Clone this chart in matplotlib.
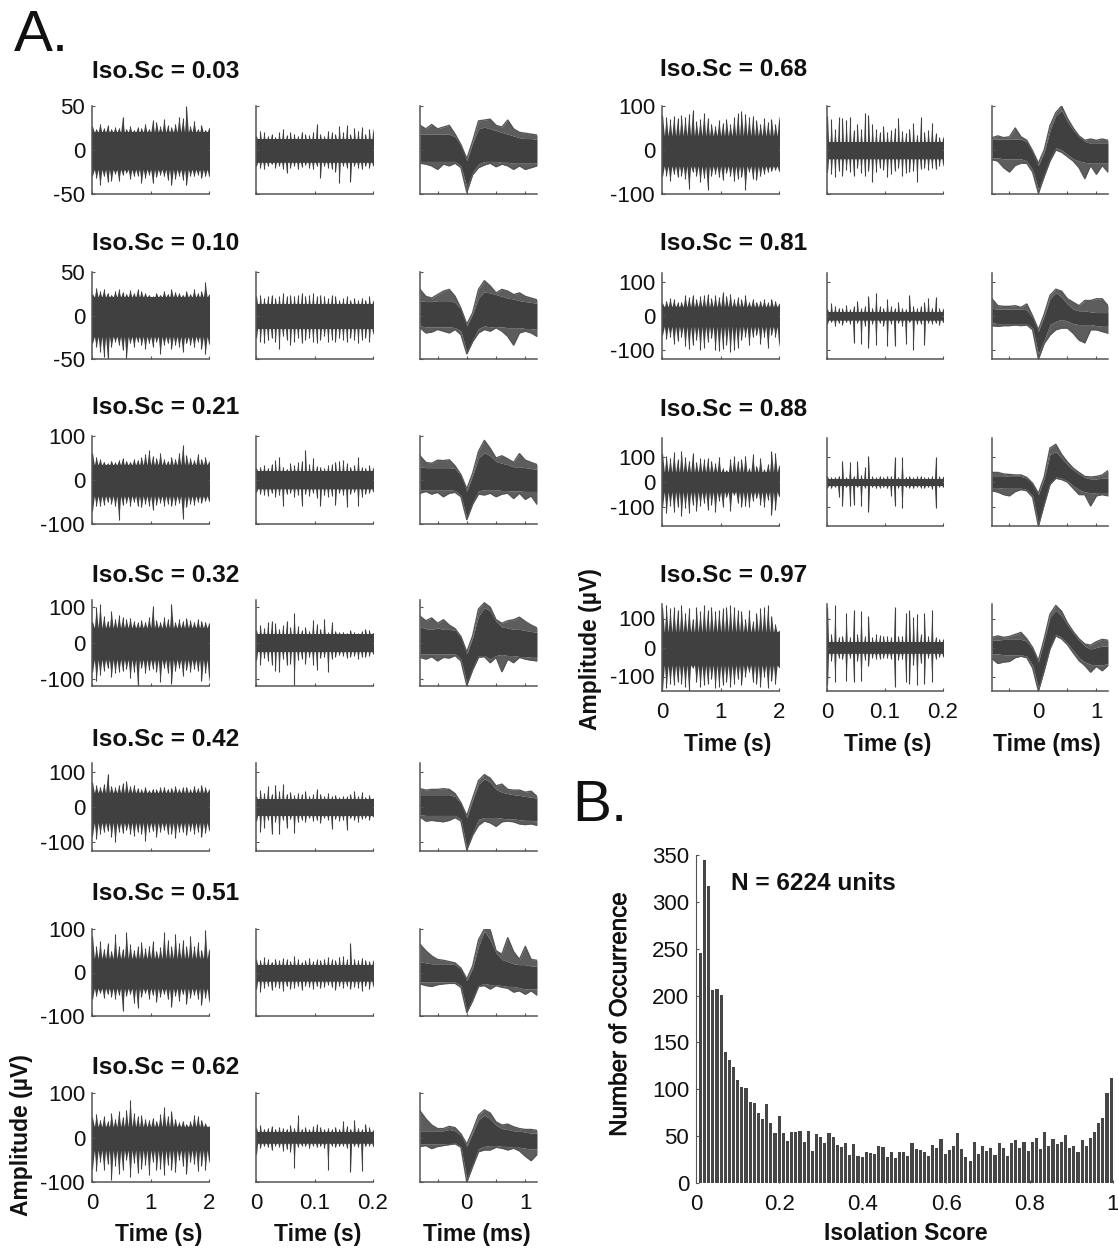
import numpy as np
import matplotlib
matplotlib.use("Agg")
import matplotlib.pyplot as plt
import matplotlib.patheffects as pe

plt.rcParams['font.family'] = ['Liberation Sans', 'DejaVu Sans']
plt.rcParams['axes.unicode_minus'] = False

W, H = 1118, 1248
DARK = '#404040'
EDGE = '#555555'
TXT = '#111111'

scores = ['0.03', '0.10', '0.21', '0.32', '0.42', '0.51', '0.62', '0.68', '0.81', '0.88', '0.97']
y_limits = [50, 50, 100, 120, 125, 100, 100, 100, 125, 175, 150]
y_ticks = [50, 50, 100, 100, 100, 100, 100, 100, 100, 100, 100]

# core of each trace (top, bottom) : the part that is solid dark
long_core = [(20, -22), (21, -24), (34, -36), (42, -46), (40, -44), (32, -36), (24, -28), (32, -36), (26, -30), (38, -38), (52, -60)]
short_core = [(12, -14), (13, -15), (20, -20), (24, -24), (22, -24), (18, -20), (13, -13), (18, -20), (12, -12), (12, -14), (18, -20)]

# spike tips, read by eye, 32 samples across each panel
long_hi_03 = [27, 24, 30, 25, 28, 24, 26, 25, 38, 24, 27, 23, 26, 25, 30, 24, 34, 32, 27, 35, 28, 26, 30, 38, 36, 50, 27, 33, 24, 28, 23, 26]
long_lo_03 = [-29, -32, -40, -30, -36, -35, -27, -35, -28, -26, -33, -30, -29, -37, -32, -28, -38, -31, -28, -30, -34, -40, -33, -29, -34, -40, -29, -30, -28, -32, -30, -31]
short_hi_03 = [16, 22, 20, 16, 18, 15, 20, 24, 17, 20, 18, 16, 21, 18, 17, 20, 30, 18, 16, 22, 20, 18, 27, 20, 28, 18, 25, 22, 26, 18, 24, 25]
short_lo_03 = [-18, -20, -22, -18, -16, -20, -18, -22, -26, -20, -18, -22, -19, -17, -20, -22, -18, -32, -18, -20, -22, -25, -38, -18, -20, -36, -18, -20, -22, -18, -20, -19]
wave_chi_03 = [18, 18, 18, 18, 18, 18, 15, 5, -12, 8, 24, 26, 24, 22, 20, 18, 16, 14, 13, 13, 12]
wave_clo_03 = [-13, -13, -13, -13, -13, -13, -13, -18, -42, -25, -16, -13, -13, -13, -14, -14, -15, -15, -15, -15, -15]
wave_ohi_03 = [28, 24, 29, 24, 26, 28, 18, 6, -10, 10, 33, 34, 35, 28, 26, 34, 24, 20, 19, 18, 17]
wave_olo_03 = [-15, -16, -18, -22, -16, -18, -15, -20, -48, -28, -20, -17, -15, -19, -16, -18, -22, -18, -22, -20, -18]

long_hi_10 = [25, 32, 28, 30, 26, 24, 28, 30, 27, 25, 29, 26, 30, 28, 26, 24, 22, 26, 24, 28, 25, 30, 27, 26, 24, 28, 25, 30, 26, 28, 38, 25]
long_lo_10 = [-32, -36, -42, -48, -50, -36, -30, -34, -40, -50, -32, -36, -30, -34, -38, -32, -36, -30, -44, -34, -32, -38, -34, -36, -42, -32, -34, -36, -30, -38, -44, -34]
short_hi_10 = [22, 24, 20, 22, 24, 20, 22, 26, 22, 24, 22, 24, 26, 22, 24, 26, 22, 24, 22, 20, 24, 22, 18, 20, 22, 18, 20, 18, 20, 18, 22, 18]
short_lo_10 = [-26, -30, -32, -28, -26, -30, -38, -24, -28, -34, -30, -26, -32, -28, -26, -30, -32, -28, -24, -30, -28, -30, -26, -28, -30, -26, -28, -32, -28, -26, -30, -22]
wave_chi_10 = [17, 16, 16, 17, 17, 17, 15, 7, -12, 2, 20, 27, 26, 24, 22, 20, 19, 17, 16, 15, 14]
wave_clo_10 = [-12, -13, -13, -13, -13, -13, -14, -18, -42, -28, -15, -12, -13, -13, -13, -14, -14, -14, -15, -15, -16]
wave_ohi_10 = [30, 22, 20, 24, 28, 30, 22, 8, -10, 3, 30, 40, 34, 26, 30, 28, 24, 26, 22, 20, 18]
wave_olo_10 = [-14, -20, -19, -16, -18, -20, -16, -22, -44, -30, -20, -16, -18, -14, -18, -24, -34, -20, -18, -20, -24]

long_hi_21 = [62, 52, 48, 42, 38, 44, 40, 46, 50, 44, 42, 48, 46, 52, 60, 68, 55, 50, 62, 48, 44, 52, 48, 62, 80, 56, 50, 46, 60, 48, 52, 44]
long_lo_21 = [-70, -58, -60, -56, -50, -54, -60, -92, -56, -52, -58, -50, -60, -62, -54, -58, -68, -56, -52, -58, -54, -60, -56, -52, -88, -62, -54, -56, -50, -52, -48, -50]
short_hi_21 = [28, 30, 34, 28, 36, 45, 52, 30, 26, 38, 34, 40, 44, 68, 36, 50, 32, 30, 28, 34, 36, 42, 44, 46, 38, 30, 34, 52, 30, 28, 34, 30]
short_lo_21 = [-28, -32, -34, -36, -30, -38, -34, -60, -32, -30, -38, -34, -58, -32, -36, -30, -40, -58, -34, -38, -36, -56, -30, -34, -62, -32, -28, -58, -38, -32, -30, -28]
wave_chi_21 = [30, 28, 28, 28, 28, 28, 26, 10, -25, 10, 50, 62, 55, 42, 38, 35, 30, 30, 28, 26, 24]
wave_clo_21 = [-22, -22, -22, -22, -22, -22, -24, -35, -85, -50, -25, -22, -22, -22, -24, -24, -25, -25, -26, -26, -26]
wave_ohi_21 = [55, 40, 38, 45, 44, 46, 32, 12, -20, 15, 65, 90, 72, 50, 55, 48, 40, 60, 45, 40, 35]
wave_olo_21 = [-30, -26, -32, -28, -38, -30, -28, -38, -90, -55, -32, -34, -30, -38, -32, -30, -42, -30, -44, -36, -55]

long_hi_32 = [60, 100, 108, 75, 62, 90, 68, 78, 72, 66, 70, 62, 58, 64, 60, 72, 104, 64, 60, 72, 66, 108, 58, 66, 62, 70, 64, 60, 66, 62, 60, 58]
long_lo_32 = [-82, -105, -90, -78, -70, -95, -85, -80, -78, -72, -98, -80, -120, -70, -84, -76, -72, -80, -108, -70, -84, -115, -78, -70, -92, -76, -80, -72, -78, -106, -84, -108]
short_hi_32 = [35, 50, 42, 58, 62, 55, 40, 50, 62, 45, 85, 48, 36, 44, 34, 65, 52, 40, 68, 30, 58, 34, 30, 32, 28, 36, 30, 28, 34, 38, 36, 30]
short_lo_32 = [-48, -60, -42, -50, -60, -78, -82, -44, -62, -58, -118, -48, -44, -58, -40, -60, -74, -42, -38, -82, -44, -38, -34, -36, -42, -38, -36, -44, -40, -38, -36, -32]
wave_chi_32 = [45, 40, 38, 42, 38, 38, 36, 15, -30, 15, 75, 98, 90, 60, 45, 42, 38, 38, 35, 32, 30]
wave_clo_32 = [-30, -30, -30, -30, -30, -30, -30, -45, -112, -70, -35, -35, -45, -35, -32, -35, -35, -38, -38, -40, -40]
wave_ohi_32 = [75, 62, 70, 55, 65, 50, 40, 18, -25, 20, 95, 112, 100, 65, 55, 62, 65, 72, 60, 50, 42]
wave_olo_32 = [-40, -45, -38, -50, -40, -42, -35, -50, -118, -75, -40, -38, -55, -40, -80, -45, -55, -40, -45, -48, -50]

long_hi_42 = [70, 62, 58, 65, 95, 60, 56, 62, 68, 74, 60, 62, 54, 50, 58, 48, 52, 50, 56, 58, 52, 55, 60, 52, 56, 58, 50, 60, 54, 62, 56, 52]
long_lo_42 = [-82, -92, -76, -72, -68, -84, -100, -70, -74, -66, -78, -82, -72, -76, -96, -70, -68, -84, -72, -66, -78, -76, -88, -70, -72, -80, -68, -76, -70, -86, -74, -70]
short_hi_42 = [30, 48, 40, 60, 36, 62, 46, 66, 38, 44, 34, 40, 38, 46, 32, 36, 50, 38, 32, 40, 30, 34, 28, 32, 30, 36, 46, 32, 42, 28, 34, 26]
short_lo_42 = [-40, -70, -60, -36, -78, -42, -76, -38, -60, -34, -74, -44, -36, -42, -32, -40, -38, -46, -30, -36, -62, -34, -40, -36, -66, -32, -38, -42, -34, -30, -36, -28]
wave_chi_42 = [35, 35, 35, 35, 35, 35, 30, 10, -30, 20, 65, 80, 70, 50, 42, 38, 35, 33, 30, 28, 25]
wave_clo_42 = [-22, -24, -24, -24, -24, -24, -24, -35, -115, -75, -35, -30, -30, -30, -32, -34, -34, -36, -38, -38, -40]
wave_ohi_42 = [52, 48, 50, 50, 52, 50, 38, 12, -25, 25, 75, 92, 82, 60, 65, 50, 48, 48, 42, 45, 30]
wave_olo_42 = [-28, -40, -38, -40, -42, -38, -30, -40, -122, -80, -52, -40, -45, -55, -42, -40, -42, -48, -50, -48, -52]

long_hi_51 = [85, 60, 72, 55, 68, 50, 88, 60, 55, 92, 65, 52, 60, 70, 56, 62, 72, 50, 58, 92, 74, 60, 88, 68, 75, 60, 85, 62, 70, 52, 98, 56]
long_lo_51 = [-62, -55, -48, -58, -50, -56, -60, -52, -88, -54, -50, -70, -82, -56, -48, -60, -52, -68, -56, -50, -62, -80, -54, -66, -50, -72, -58, -52, -60, -74, -58, -70]
short_hi_51 = [30, 28, 35, 30, 25, 32, 28, 34, 30, 26, 38, 30, 24, 28, 34, 26, 30, 28, 32, 36, 30, 28, 36, 38, 30, 68, 32, 28, 34, 28, 26, 30]
short_lo_51 = [-38, -44, -36, -30, -40, -34, -36, -42, -32, -38, -36, -32, -40, -30, -34, -38, -32, -36, -34, -28, -34, -40, -32, -36, -30, -38, -34, -36, -42, -32, -38, -34]
wave_chi_51 = [25, 22, 20, 20, 20, 20, 18, 8, -18, 10, 60, 95, 75, 45, 30, 25, 20, 18, 18, 15, 15]
wave_clo_51 = [-22, -22, -22, -22, -22, -22, -22, -30, -88, -60, -30, -25, -28, -28, -30, -32, -32, -35, -38, -38, -38]
wave_ohi_51 = [65, 50, 38, 30, 28, 25, 22, 10, -15, 15, 75, 100, 98, 50, 42, 80, 48, 30, 60, 30, 28]
wave_olo_51 = [-26, -30, -32, -28, -26, -25, -25, -34, -92, -65, -32, -30, -38, -30, -34, -36, -45, -42, -50, -42, -52]

long_hi_62 = [45, 52, 40, 48, 36, 55, 42, 60, 46, 62, 85, 55, 48, 50, 42, 40, 44, 38, 52, 68, 48, 60, 42, 34, 38, 30, 36, 50, 48, 40, 32, 26]
long_lo_62 = [-70, -76, -56, -72, -60, -96, -64, -82, -72, -50, -88, -58, -80, -70, -62, -84, -54, -74, -70, -84, -62, -72, -78, -50, -64, -82, -56, -60, -76, -64, -72, -58]
short_hi_62 = [22, 28, 20, 22, 26, 20, 24, 22, 20, 28, 22, 50, 20, 24, 18, 26, 30, 24, 20, 22, 18, 24, 20, 38, 26, 20, 40, 22, 18, 30, 24, 18]
short_lo_62 = [-38, -24, -20, -22, -28, -18, -22, -30, -26, -32, -68, -22, -18, -20, -24, -18, -22, -20, -24, -74, -18, -22, -20, -18, -24, -78, -20, -22, -76, -20, -18, -22]
wave_chi_62 = [15, 15, 15, 15, 15, 18, 15, 5, -20, 10, 40, 50, 42, 28, 20, 18, 15, 15, 12, 10, 10]
wave_clo_62 = [-14, -14, -14, -14, -14, -14, -12, -20, -92, -60, -25, -20, -18, -18, -20, -20, -22, -22, -24, -26, -26]
wave_ohi_62 = [60, 42, 28, 20, 20, 25, 22, 8, -15, 15, 50, 62, 55, 35, 28, 30, 24, 20, 18, 18, 16]
wave_olo_62 = [-20, -18, -25, -20, -18, -16, -14, -22, -100, -65, -32, -28, -28, -22, -24, -28, -24, -30, -42, -52, -38]

long_hi_68 = [80, 75, 70, 78, 72, 80, 75, 82, 92, 65, 70, 85, 72, 60, 55, 68, 62, 70, 58, 74, 85, 88, 82, 75, 78, 68, 60, 72, 64, 70, 60, 78]
long_lo_68 = [-60, -58, -70, -55, -62, -58, -66, -88, -50, -60, -72, -64, -90, -58, -55, -62, -68, -52, -60, -70, -65, -62, -90, -50, -66, -68, -60, -55, -50, -48, -45, -50]
short_hi_68 = [78, 70, 48, 75, 72, 68, 76, 45, 60, 48, 85, 80, 60, 48, 42, 55, 40, 45, 50, 72, 44, 38, 48, 62, 35, 75, 40, 46, 62, 38, 30, 32]
short_lo_68 = [-50, -55, -62, -48, -58, -45, -50, -60, -42, -52, -60, -48, -72, -50, -42, -46, -62, -55, -48, -42, -60, -52, -50, -48, -72, -44, -42, -46, -40, -44, -36, -38]
wave_chi_68 = [25, 25, 25, 25, 25, 25, 18, -5, -35, -5, 45, 78, 90, 65, 45, 30, 20, 15, 15, 15, 15]
wave_clo_68 = [-18, -18, -20, -20, -20, -20, -25, -45, -90, -55, -20, 5, 0, -10, -20, -25, -28, -30, -30, -30, -30]
wave_ohi_68 = [28, 32, 28, 30, 50, 30, 22, -2, -30, 0, 55, 85, 100, 72, 50, 32, 22, 25, 22, 25, 22]
wave_olo_68 = [-22, -25, -40, -50, -35, -30, -30, -50, -98, -60, -25, 0, -5, -15, -25, -40, -65, -35, -55, -35, -50]

long_hi_81 = [38, 45, 52, 48, 40, 42, 60, 55, 62, 50, 58, 60, 64, 52, 60, 55, 70, 58, 65, 50, 54, 48, 60, 42, 50, 42, 45, 48, 40, 50, 44, 38]
long_lo_81 = [-55, -68, -60, -80, -72, -60, -88, -95, -85, -70, -98, -92, -75, -65, -100, -102, -95, -85, -105, -100, -92, -70, -60, -85, -62, -55, -80, -60, -92, -55, -60, -90]
short_hi_81 = [20, 38, 28, 24, 22, 32, 20, 28, 45, 22, 30, 58, 24, 68, 28, 22, 48, 28, 22, 40, 24, 20, 62, 28, 22, 30, 40, 52, 24, 55, 22, 24]
short_lo_81 = [-22, -18, -30, -20, -25, -18, -22, -78, -20, -80, -28, -92, -22, -85, -20, -30, -88, -22, -88, -20, -28, -82, -18, -98, -24, -22, -84, -20, -22, -20, -26, -20]
wave_chi_81 = [22, 20, 20, 20, 20, 20, 18, -5, -45, 0, 50, 68, 55, 35, 20, 15, 15, 12, 10, 10, 10]
wave_clo_81 = [-20, -22, -22, -22, -22, -22, -22, -35, -110, -70, -25, -15, -10, -15, -22, -25, -25, -25, -28, -30, -30]
wave_ohi_81 = [50, 30, 28, 28, 30, 25, 35, 0, -40, 5, 60, 78, 72, 50, 40, 30, 45, 45, 50, 50, 30]
wave_olo_81 = [-28, -30, -28, -28, -26, -28, -26, -40, -125, -80, -55, -40, -35, -35, -50, -70, -78, -40, -40, -45, -50]

long_hi_88 = [115, 105, 95, 118, 90, 125, 100, 85, 115, 80, 95, 90, 95, 85, 75, 100, 55, 48, 90, 102, 85, 90, 105, 55, 110, 65, 95, 50, 70, 125, 115, 70]
long_lo_88 = [-100, -125, -95, -120, -100, -135, -105, -125, -90, -115, -95, -85, -110, -90, -120, -75, -100, -60, -115, -50, -85, -100, -95, -100, -75, -65, -90, -100, -70, -130, -110, -60]
short_hi_88 = [22, 18, 20, 25, 85, 18, 78, 24, 85, 28, 60, 105, 22, 18, 25, 20, 25, 22, 100, 18, 100, 20, 24, 18, 22, 25, 18, 20, 22, 98, 22, 25]
short_lo_88 = [-22, -25, -20, -58, -95, -20, -95, -90, -20, -95, -22, -120, -20, -25, -22, -20, -25, -55, -95, -22, -105, -20, -22, -25, -18, -22, -25, -20, -28, -105, -18, -22]
wave_chi_88 = [25, 25, 25, 22, 22, 22, 15, -8, -50, 15, 110, 120, 95, 70, 48, 32, 18, 12, 12, 15, 15]
wave_clo_88 = [-22, -22, -25, -25, -25, -25, -30, -55, -165, -85, -5, 20, 15, 5, -15, -30, -40, -42, -45, -45, -45]
wave_ohi_88 = [38, 38, 32, 30, 28, 28, 18, -5, -45, 20, 135, 150, 110, 80, 55, 38, 22, 20, 22, 28, 45]
wave_olo_88 = [-35, -40, -50, -55, -38, -30, -35, -60, -175, -90, -10, 15, 10, 0, -25, -50, -50, -95, -55, -50, -55]

long_hi_97 = [140, 145, 135, 140, 130, 145, 120, 135, 100, 140, 125, 145, 130, 140, 125, 130, 135, 140, 145, 140, 130, 125, 100, 130, 90, 120, 135, 140, 145, 110, 80, 60]
long_lo_97 = [-145, -140, -125, -130, -120, -125, -135, -150, -70, -120, -135, -130, -125, -110, -140, -135, -130, -120, -135, -125, -110, -130, -100, -85, -120, -125, -135, -100, -140, -115, -125, -70]
short_hi_97 = [140, 45, 145, 35, 40, 120, 35, 128, 45, 125, 40, 110, 35, 45, 42, 40, 38, 35, 140, 40, 38, 120, 130, 105, 115, 45, 120, 40, 130, 35, 30, 32]
short_lo_97 = [-130, -45, -120, -35, -40, -115, -35, -120, -48, -115, -42, -65, -35, -40, -38, -35, -35, -40, -135, -42, -38, -120, -125, -60, -130, -55, -125, -35, -120, -38, -32, -35]
wave_chi_97 = [25, 25, 28, 28, 28, 28, 22, -5, -50, 25, 105, 128, 110, 78, 50, 25, 5, -5, 0, 5, 5]
wave_clo_97 = [-22, -22, -25, -25, -25, -25, -30, -60, -140, -70, 0, 45, 35, 15, -10, -35, -50, -58, -60, -60, -55]
wave_ohi_97 = [35, 40, 35, 38, 45, 52, 30, 0, -45, 30, 115, 145, 125, 85, 55, 30, 12, 8, 20, 28, 25]
wave_olo_97 = [-38, -55, -50, -48, -35, -30, -35, -70, -150, -80, -5, 40, 30, 10, -18, -45, -62, -85, -65, -80, -62]

wave_t = [-0.8, -0.7, -0.6, -0.5, -0.4, -0.3, -0.2, -0.1, 0.0, 0.1, 0.2, 0.3, 0.4, 0.5, 0.6, 0.7, 0.8, 0.9, 1.0, 1.1, 1.2]

# histogram in panel B, 100 bins
iso_counts = [245, 345, 317, 206, 207, 201, 140, 131, 124, 110, 102, 101, 86, 85, 75, 68, 84, 64, 53, 71,
              53, 45, 54, 54, 55, 44, 56, 34, 52, 49, 43, 53, 49, 41, 38, 43, 30, 42, 29, 28,
              33, 32, 31, 40, 38, 28, 33, 27, 33, 33, 29, 43, 36, 35, 33, 29, 41, 37, 47, 31,
              35, 40, 53, 36, 28, 24, 44, 31, 39, 34, 37, 30, 43, 37, 29, 43, 46, 37, 44, 34,
              44, 48, 36, 54, 39, 47, 42, 44, 51, 37, 40, 33, 46, 39, 48, 54, 64, 69, 96, 112]

long_hi = [long_hi_03, long_hi_10, long_hi_21, long_hi_32, long_hi_42, long_hi_51, long_hi_62, long_hi_68, long_hi_81, long_hi_88, long_hi_97]
long_lo = [long_lo_03, long_lo_10, long_lo_21, long_lo_32, long_lo_42, long_lo_51, long_lo_62, long_lo_68, long_lo_81, long_lo_88, long_lo_97]
short_hi = [short_hi_03, short_hi_10, short_hi_21, short_hi_32, short_hi_42, short_hi_51, short_hi_62, short_hi_68, short_hi_81, short_hi_88, short_hi_97]
short_lo = [short_lo_03, short_lo_10, short_lo_21, short_lo_32, short_lo_42, short_lo_51, short_lo_62, short_lo_68, short_lo_81, short_lo_88, short_lo_97]
wave_chi = [wave_chi_03, wave_chi_10, wave_chi_21, wave_chi_32, wave_chi_42, wave_chi_51, wave_chi_62, wave_chi_68, wave_chi_81, wave_chi_88, wave_chi_97]
wave_clo = [wave_clo_03, wave_clo_10, wave_clo_21, wave_clo_32, wave_clo_42, wave_clo_51, wave_clo_62, wave_clo_68, wave_clo_81, wave_clo_88, wave_clo_97]
wave_ohi = [wave_ohi_03, wave_ohi_10, wave_ohi_21, wave_ohi_32, wave_ohi_42, wave_ohi_51, wave_ohi_62, wave_ohi_68, wave_ohi_81, wave_ohi_88, wave_ohi_97]
wave_olo = [wave_olo_03, wave_olo_10, wave_olo_21, wave_olo_32, wave_olo_42, wave_olo_51, wave_olo_62, wave_olo_68, wave_olo_81, wave_olo_88, wave_olo_97]

# pixel layout: title y, axes top, axes bottom
row_y = [(71, 106, 194), (244, 272, 359), (408, 436, 524), (575, 600, 686), (740, 763, 851), (894, 929, 1016), (1068, 1093, 1182),
         (70, 106, 194), (244, 273, 359), (409, 438, 526), (576, 604, 691)]
left_x = [(92, 209), (256, 373), (420, 537)]
right_x = [(662, 779), (827, 943), (992, 1108)]

fig = plt.figure(figsize=(W / 100, H / 100), dpi=100)


def add_ax(x0, x1, top, bottom):
    return fig.add_axes([x0 / W, 1 - bottom / H, (x1 - x0) / W, (bottom - top) / H])


def put(x, y, s, **kw):
    fig.text(x / W, 1 - y / H, s, color=TXT, **kw)


def style(ax, xticks, ylim, ytick, show_y, show_x, xlabels=None):
    for side in ['top', 'right']:
        ax.spines[side].set_visible(False)
    for side in ['left', 'bottom']:
        ax.spines[side].set_color(EDGE)
        ax.spines[side].set_linewidth(1.1)
    ax.patch.set_alpha(0)
    ax.set_ylim(-ylim, ylim)
    ax.set_yticks([-ytick, 0, ytick])
    ax.set_xticks(xticks)
    ax.tick_params(direction='in', length=2.5, width=0.8, color=EDGE, labelsize=16,
                   labelcolor=TXT, labelleft=show_y, labelbottom=show_x)
    ax.tick_params(axis='x', pad=8)
    ax.tick_params(axis='y', pad=5)
    if xlabels is not None:
        ax.set_xticklabels(xlabels)


def sawtooth(t, tips, base, frac):
    # a narrow triangle round each tip, standing on the core
    half = (t[1] - t[0]) * frac
    xs = np.column_stack([t - half, t, t + half]).ravel()
    ys = np.column_stack([np.full(len(tips), base), tips, np.full(len(tips), base)]).ravel()
    return xs, ys


def draw_trace(ax, hi, lo, core, tmax, frac):
    t = np.linspace(0.004 * tmax, tmax, len(hi))
    ax.fill_between([0, tmax], core[1], core[0], color=DARK, lw=0)
    xs, ys = sawtooth(t, hi, core[0], frac)
    ax.fill_between(xs, 0, ys, color=DARK, lw=0)
    xs, ys = sawtooth(t, lo, core[1], frac)
    ax.fill_between(xs, 0, ys, color=DARK, lw=0)
    ax.vlines(t, lo, hi, color=DARK, lw=0.8)
    ax.set_xlim(0, tmax)


def draw_wave(ax, i):
    ax.fill_between(wave_t, wave_clo[i], wave_chi[i], color=DARK, lw=0)
    # outer lines of the cluster, thinning out towards the edge
    ax.fill_between(wave_t, wave_chi[i], wave_ohi[i], color=DARK, alpha=0.85, lw=0)
    ax.fill_between(wave_t, wave_olo[i], wave_clo[i], color=DARK, alpha=0.85, lw=0)
    ax.plot(wave_t, wave_ohi[i], color=EDGE, lw=1.0)
    ax.plot(wave_t, wave_olo[i], color=EDGE, lw=1.0)
    ax.set_xlim(-0.8, 1.2)


for i, score in enumerate(scores):
    cols = left_x if i < 7 else right_x
    title_y, top, bottom = row_y[i]
    last = i == 6 or i == 10
    put(cols[0][0] if i < 7 else 660, title_y, 'Iso.Sc = ' + score, fontsize=17.6, fontweight='bold', va='center')

    ax = add_ax(cols[0][0], cols[0][1], top, bottom)
    draw_trace(ax, long_hi[i], long_lo[i], long_core[i], 2, 0.5)
    style(ax, [0, 1, 2], y_limits[i], y_ticks[i], True, last, ['0', '1', '2'])

    ax = add_ax(cols[1][0], cols[1][1], top, bottom)
    draw_trace(ax, short_hi[i], short_lo[i], short_core[i], 0.2, 0.3)
    style(ax, [0, 0.1, 0.2], y_limits[i], y_ticks[i], False, last, ['0', '0.1', '0.2'])

    ax = add_ax(cols[2][0], cols[2][1], top, bottom)
    draw_wave(ax, i)
    style(ax, [-0.5, 0, 0.5, 1], y_limits[i], y_ticks[i], False, last, ['', '0', '', '1'])

for xc, label in zip([159, 318, 477], ['Time (s)', 'Time (s)', 'Time (ms)']):
    put(xc, 1234, label, fontsize=16.5, fontweight='bold', ha='center', va='center')
for xc, label in zip([728, 888, 1047], ['Time (s)', 'Time (s)', 'Time (ms)']):
    put(xc, 744, label, fontsize=16.5, fontweight='bold', ha='center', va='center')

put(22, 1135, 'Amplitude (µV)', fontsize=16.5, fontweight='bold', rotation=90, ha='center', va='center')
put(591, 649, 'Amplitude (µV)', fontsize=16.5, fontweight='bold', rotation=90, ha='center', va='center')

put(14, 36, 'A.', fontsize=42, va='center')
put(572, 806, 'B.', fontsize=42, va='center')

# panel B
ax = add_ax(696, 1113, 855, 1183)
centers = 0.0105 + 0.00995 * np.arange(len(iso_counts))
ax.bar(centers, iso_counts, width=0.0075, color='#464646')
ax.set_xlim(0, 1)
ax.set_ylim(0, 350)
ax.set_xticks([0, 0.2, 0.4, 0.6, 0.8, 1])
ax.set_xticklabels(['0', '0.2', '0.4', '0.6', '0.8', '1'])
ax.set_yticks(range(0, 351, 50))
ax.tick_params(direction='in', length=2, width=0.8, color=EDGE, labelsize=16, labelcolor=TXT)
ax.tick_params(axis='x', pad=8)
ax.tick_params(axis='y', pad=5)
ax.spines['top'].set_visible(False)
ax.spines['right'].set_visible(False)
ax.spines['bottom'].set_visible(False)
ax.spines['left'].set_color(EDGE)

put(731, 884, 'N = 6224 units', fontsize=17.6, fontweight='bold', va='center')
label_y = fig.text(620 / W, 1 - 1015 / H, 'Number of Occurrence', color=TXT, fontsize=17.4, rotation=90, ha='center', va='center')
label_y.set_path_effects([pe.withStroke(linewidth=0.5, foreground=TXT)])
put(906, 1234, 'Isolation Score', fontsize=16.5, fontweight='bold', ha='center', va='center')

fig.savefig('out.png', dpi=100)
